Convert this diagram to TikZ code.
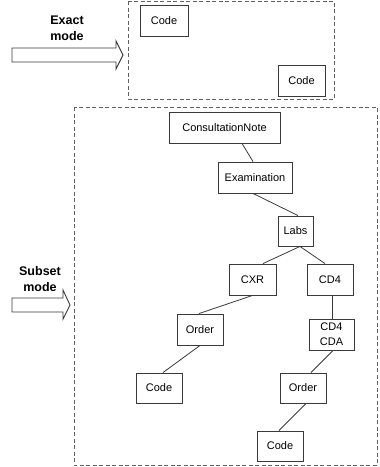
\documentclass[tikz,border=0pt]{standalone}
\usepackage{fontspec}
\setmainfont{Liberation Sans}
\usetikzlibrary{calc}
\definecolor{boxline}{HTML}{3A3A3A}
\definecolor{dashline}{HTML}{606060}
\begin{document}
\begin{tikzpicture}[x=1pt,y=-1pt,
  box/.style={draw=boxline,line width=0.9pt,rectangle,inner sep=0pt,minimum height=31pt,align=center,font=\fontsize{11}{15}\selectfont},
  frame/.style={draw=dashline,line width=0.8pt,dash pattern=on 4pt off 2.5pt},
  conn/.style={draw=boxline,line width=0.8pt},
  blockarrow/.style={draw=boxline,line width=0.9pt,fill=white},
  modelabel/.style={align=center,font=\fontsize{12.5}{16.5}\selectfont\bfseries,inner sep=0pt}]
\useasboundingbox (0,0) rectangle (380,467);
% frames
\draw[frame] (128,1) rectangle (334,99);
\draw[frame] (74,107) rectangle (377,465);
% block arrows
\draw[blockarrow] (12,48) -- (116,48) -- (116,41) -- (123,55) -- (116,69) -- (116,62) -- (12,62) -- cycle;
\draw[blockarrow] (12,298) -- (63,298) -- (63,290) -- (70,305) -- (63,319) -- (63,312) -- (12,312) -- cycle;
% labels
\node[modelabel] (exactlbl) at (67,28.5) {Exact\\mode};
\node[modelabel] (subsetlbl) at (40,279) {Subset\\mode};
% exact mode nodes
\node[box,minimum width=48pt] (code1) at (164,20.5) {Code};
\node[box,minimum width=47pt] (code2) at (301.5,80.5) {Code};
% subset tree
\node[box,minimum width=111pt] (cn) at (224.5,127.5) {ConsultationNote};
\node[box,minimum width=74pt] (exam) at (255,177.5) {Examination};
\node[box,minimum width=35pt,minimum height=30pt] (labs) at (295.5,231) {Labs};
\node[box,minimum width=47pt] (cxr) at (252.5,279.5) {CXR};
\node[box,minimum width=46pt] (cd4) at (330,279.5) {CD4};
\node[box,minimum width=46pt] (orderl) at (200,329.5) {Order};
\node[box,minimum width=46pt,minimum height=30pt] (codel) at (159,388) {Code};
\node[box,minimum width=45pt] (cdacda) at (331.5,334.5) {CD4\\CDA};
\node[box,minimum width=46pt,minimum height=30pt] (orderr) at (303,388) {Order};
\node[box,minimum width=46pt,minimum height=30pt] (codeb) at (280,446) {Code};
% connectors
\draw[conn] ($(cn.south)+(17.5,0)$) -- ($(exam.north)+(-2,0)$);
\draw[conn] ($(exam.south)+(-2,0)$) -- ($(labs.north)+(2.5,0)$);
\draw[conn] ($(labs.south)+(4.5,0)$) -- ($(cxr.north)+(10.5,0)$);
\draw[conn] ($(labs.south)+(4.5,0)$) -- ($(cd4.north)+(-5,0)$);
\draw[conn] (cxr.south) -- ($(orderl.north)+(-1,0)$);
\draw[conn] (orderl.south) -- ($(codel.north)+(4,0)$);
\draw[conn] ($(cd4.south)+(2,0)$) -- ($(cdacda.north)+(0.5,0)$);
\draw[conn] ($(cdacda.south)+(1.5,0)$) -- ($(orderr.north)+(8,0)$);
\draw[conn] ($(orderr.south)+(3,0)$) -- ($(codeb.north)+(-1,0)$);
\end{tikzpicture}
\end{document}
